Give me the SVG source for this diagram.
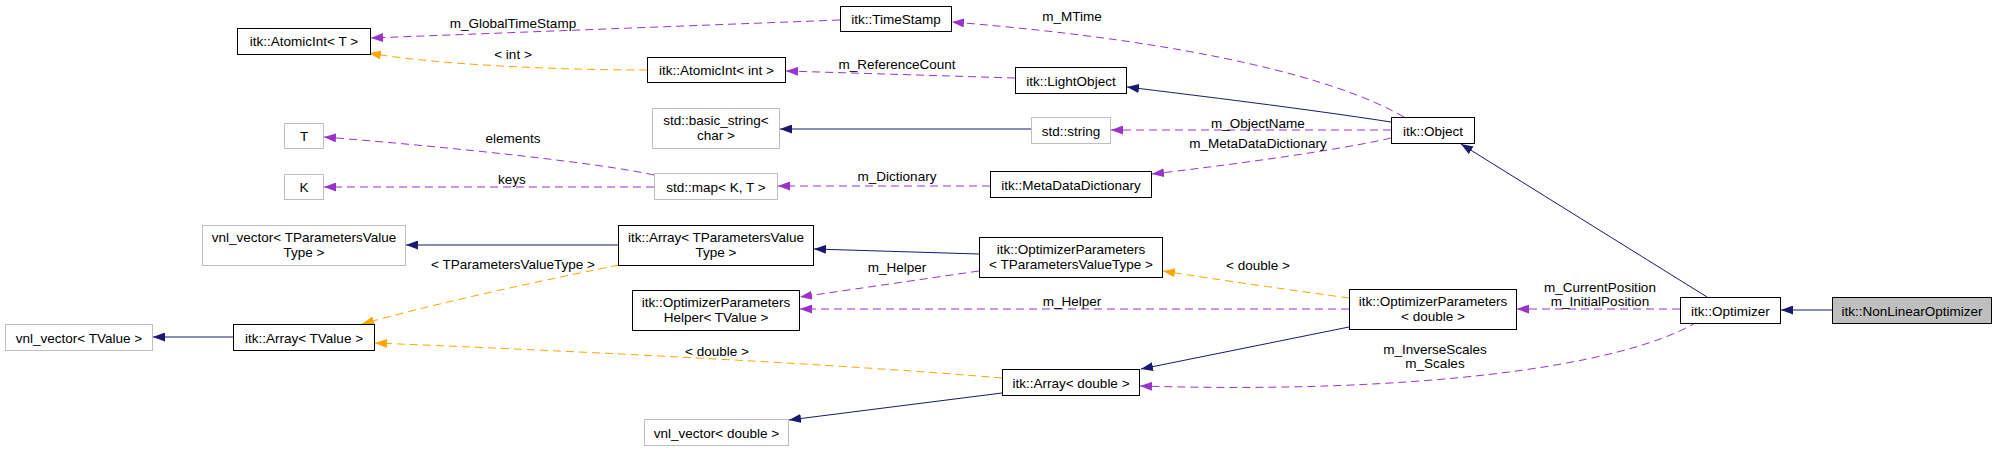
<svg xmlns="http://www.w3.org/2000/svg" width="1997" height="451" viewBox="0 0 1997 451">
<style>
text{font-family:"Liberation Sans",Arial,sans-serif;font-size:13.5px;fill:#000;text-anchor:middle}
.n rect{fill:#fff;stroke:#000;stroke-width:1}
.g rect{fill:#fff;stroke:#bfbfbf;stroke-width:1}
.cur rect{fill:#bfbfbf;stroke:#000;stroke-width:1}
.e path{fill:none;stroke-width:1}
.inh{stroke:#191970}
.use{stroke:#9a32cd;stroke-dasharray:8,5}
.tpl{stroke:#ffa500;stroke-dasharray:8,5}
</style>
<defs>
<marker id="an" markerUnits="userSpaceOnUse" markerWidth="12" markerHeight="9" refX="12" refY="4.5" orient="auto"><path d="M0,0 L12,4.5 L0,9 z" fill="#191970"/></marker>
<marker id="ap" markerUnits="userSpaceOnUse" markerWidth="12" markerHeight="9" refX="12" refY="4.5" orient="auto"><path d="M0,0 L12,4.5 L0,9 z" fill="#9a32cd"/></marker>
<marker id="ao" markerUnits="userSpaceOnUse" markerWidth="12" markerHeight="9" refX="12" refY="4.5" orient="auto"><path d="M0,0 L12,4.5 L0,9 z" fill="#ffa500"/></marker>
</defs>
<rect width="1997" height="451" fill="#fff"/>
<g id="edges" class="e">
<path class="inh" marker-end="url(#an)" d="M1832,310 L1781,310"/>
<path class="inh" marker-end="url(#an)" d="M1707,297 L1461,144"/>
<path class="use" marker-end="url(#ap)" d="M1680,309 L1517,309"/>
<path class="use" marker-end="url(#ap)" d="M1697,322 C1620,368 1410,394 1140,386"/>
<path class="tpl" marker-end="url(#ao)" d="M1349,298 C1290,290 1220,280 1163,271"/>
<path class="use" marker-end="url(#ap)" d="M1349,309 L800,309"/>
<path class="inh" marker-end="url(#an)" d="M1349,327 L1141,369"/>
<path class="inh" marker-end="url(#an)" d="M979,254 L814,249"/>
<path class="use" marker-end="url(#ap)" d="M979,271 L800,297"/>
<path class="inh" marker-end="url(#an)" d="M618,245 L406,245"/>
<path class="tpl" marker-end="url(#ao)" d="M619,265 C520,285 430,305 362,324"/>
<path class="tpl" marker-end="url(#ao)" d="M1002,378 C850,365 600,352 375,343"/>
<path class="inh" marker-end="url(#an)" d="M1002,393 L789,420"/>
<path class="inh" marker-end="url(#an)" d="M233,337 L153,337"/>
<path class="use" marker-end="url(#ap)" d="M1391,130 L1111,130"/>
<path class="use" marker-end="url(#ap)" d="M1391,138 C1340,150 1230,165 1152,174"/>
<path class="use" marker-end="url(#ap)" d="M1404,117 C1340,80 1200,42 952,22"/>
<path class="inh" marker-end="url(#an)" d="M1031,129 L780,129"/>
<path class="inh" marker-end="url(#an)" d="M1391,122 C1300,108 1200,96 1127,87"/>
<path class="use" marker-end="url(#ap)" d="M1015,78 L786,71"/>
<path class="use" marker-end="url(#ap)" d="M840,20 L371,38"/>
<path class="tpl" marker-end="url(#ao)" d="M647,70 C550,70 430,64 369,53"/>
<path class="use" marker-end="url(#ap)" d="M654,175 C600,163 450,147 324,137"/>
<path class="use" marker-end="url(#ap)" d="M654,187 L324,187"/>
<path class="use" marker-end="url(#ap)" d="M990,186 L778,186"/>
<text x="1600" y="291.5">m_CurrentPosition</text>
<text x="1600" y="305.5">m_InitialPosition</text>
<text x="1435" y="354">m_InverseScales</text>
<text x="1435" y="368">m_Scales</text>
<text x="1258" y="269.5">&lt; double &gt;</text>
<text x="1072" y="305.5">m_Helper</text>
<text x="897" y="272">m_Helper</text>
<text x="513" y="268.5">&lt; TParametersValueType &gt;</text>
<text x="717" y="355.5">&lt; double &gt;</text>
<text x="1258" y="127.5">m_ObjectName</text>
<text x="1258" y="147.5">m_MetaDataDictionary</text>
<text x="1072" y="20.5">m_MTime</text>
<text x="897" y="68.5">m_ReferenceCount</text>
<text x="513" y="27.5">m_GlobalTimeStamp</text>
<text x="513" y="58.5">&lt; int &gt;</text>
<text x="513" y="142.5">elements</text>
<text x="512" y="183.5">keys</text>
<text x="897" y="180.5">m_Dictionary</text>
</g>
<g id="NonLinearOptimizer" class="cur"><rect x="1832.5" y="297.5" width="159" height="26"/><text x="1912" y="315.5">itk::NonLinearOptimizer</text></g>
<g id="Optimizer" class="n"><rect x="1680.5" y="297.5" width="100" height="26"/><text x="1730.5" y="315.5">itk::Optimizer</text></g>
<g id="Object" class="n"><rect x="1391.5" y="117.5" width="83" height="26"/><text x="1433" y="135.5">itk::Object</text></g>
<g id="OptimizerParametersDouble" class="n"><rect x="1349.5" y="289.5" width="167" height="40"/><text x="1433" y="306">itk::OptimizerParameters</text><text x="1433" y="321">&lt; double &gt;</text></g>
<g id="ArrayDouble" class="n"><rect x="1002.5" y="369.5" width="137" height="26"/><text x="1071" y="387.5">itk::Array&lt; double &gt;</text></g>
<g id="VnlVectorDouble" class="g"><rect x="644.5" y="419.5" width="144" height="26"/><text x="716.5" y="437.5">vnl_vector&lt; double &gt;</text></g>
<g id="OptimizerParametersTPVT" class="n"><rect x="979.5" y="237.5" width="183" height="40"/><text x="1071" y="254">itk::OptimizerParameters</text><text x="1071" y="269">&lt; TParametersValueType &gt;</text></g>
<g id="OptimizerParametersHelper" class="n"><rect x="632.5" y="290.5" width="167" height="40"/><text x="716" y="307">itk::OptimizerParameters</text><text x="716" y="322">Helper&lt; TValue &gt;</text></g>
<g id="ArrayTPVT" class="n"><rect x="618.5" y="225.5" width="195" height="40"/><text x="716" y="242">itk::Array&lt; TParametersValue</text><text x="716" y="257">Type &gt;</text></g>
<g id="VnlVectorTPVT" class="g"><rect x="202.5" y="225.5" width="203" height="40"/><text x="304" y="242">vnl_vector&lt; TParametersValue</text><text x="304" y="257">Type &gt;</text></g>
<g id="ArrayTValue" class="n"><rect x="233.5" y="324.5" width="141" height="26"/><text x="304" y="342.5">itk::Array&lt; TValue &gt;</text></g>
<g id="VnlVectorTValue" class="g"><rect x="5.5" y="324.5" width="147" height="26"/><text x="79" y="342.5">vnl_vector&lt; TValue &gt;</text></g>
<g id="MetaDataDictionary" class="n"><rect x="990.5" y="171.5" width="161" height="26"/><text x="1071" y="189.5">itk::MetaDataDictionary</text></g>
<g id="StdMap" class="g"><rect x="654.5" y="173.5" width="123" height="26"/><text x="716" y="191.5">std::map&lt; K, T &gt;</text></g>
<g id="T" class="g"><rect x="284.5" y="123.5" width="39" height="25"/><text x="304" y="141">T</text></g>
<g id="K" class="g"><rect x="284.5" y="174.5" width="39" height="25"/><text x="304" y="192">K</text></g>
<g id="StdString" class="g"><rect x="1031.5" y="117.5" width="79" height="26"/><text x="1071" y="135.5">std::string</text></g>
<g id="BasicString" class="g"><rect x="652.5" y="108.5" width="127" height="40"/><text x="716" y="125">std::basic_string&lt;</text><text x="716" y="140">char &gt;</text></g>
<g id="LightObject" class="n"><rect x="1015.5" y="67.5" width="111" height="26"/><text x="1071" y="85.5">itk::LightObject</text></g>
<g id="AtomicIntInt" class="n"><rect x="647.5" y="57.5" width="138" height="25"/><text x="716.5" y="75">itk::AtomicInt&lt; int &gt;</text></g>
<g id="AtomicIntT" class="n"><rect x="237.5" y="28.5" width="133" height="26"/><text x="304" y="46">itk::AtomicInt&lt; T &gt;</text></g>
<g id="TimeStamp" class="n"><rect x="840.5" y="6.5" width="111" height="25"/><text x="896" y="24">itk::TimeStamp</text></g>
</svg>
